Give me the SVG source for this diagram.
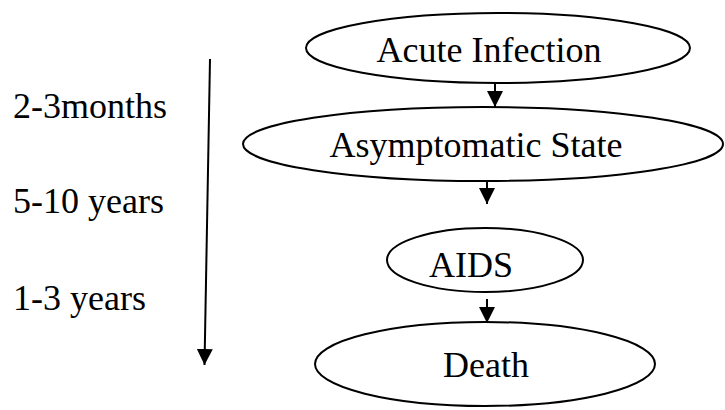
<svg xmlns="http://www.w3.org/2000/svg" width="725" height="410" viewBox="0 0 725 410">
<style>
.n{fill:#fff;stroke:#000;stroke-width:2}
.t{font-family:"Liberation Serif","Times New Roman",serif;font-size:36px;fill:#000}
.c{stroke:#000;stroke-width:2;fill:none}
</style>
<defs>
<marker id="ah" markerWidth="8" markerHeight="8" viewBox="0 0 8 8" refX="8" refY="4" orient="auto" markerUnits="userSpaceOnUse" style="overflow:visible">
<path d="M0,0 L8,4 L0,8 Z" fill="#000" transform="scale(1)"/>
</marker>
<marker id="ah2" viewBox="0 0 16 16" refX="16" refY="8" markerWidth="16" markerHeight="16" orient="auto" markerUnits="userSpaceOnUse">
<path d="M0,0 L16,8 L0,16 Z" fill="#000"/>
</marker>
</defs>
<rect width="725" height="410" fill="#fff"/>
<g id="n1"><ellipse class="n" cx="498" cy="48" rx="192" ry="35"/><text class="t" x="489" y="62" text-anchor="middle">Acute Infection</text></g>
<g id="n2"><ellipse class="n" cx="483" cy="144" rx="240" ry="37"/><text class="t" x="476" y="157" text-anchor="middle">Asymptomatic State</text></g>
<g id="n3"><ellipse class="n" cx="485" cy="260" rx="98" ry="32"/><text class="t" x="471" y="277" text-anchor="middle">AIDS</text></g>
<g id="n4"><ellipse class="n" cx="485" cy="364" rx="170" ry="42"/><text class="t" x="486" y="377" text-anchor="middle">Death</text></g>
<g id="labels">
<text class="t" x="13" y="118">2-3months</text>
<text class="t" x="13" y="213">5-10 years</text>
<text class="t" x="13" y="310">1-3 years</text>
</g>
<g id="connectors">
<line class="c" x1="495" y1="83" x2="495" y2="107" marker-end="url(#ah2)"/>
<line class="c" x1="487" y1="181" x2="487" y2="204" marker-end="url(#ah2)"/>
<line class="c" x1="487" y1="299" x2="487" y2="323" marker-end="url(#ah2)"/>
<line class="c" x1="210" y1="59" x2="204.5" y2="365" marker-end="url(#ah2)"/>
</g>
</svg>
